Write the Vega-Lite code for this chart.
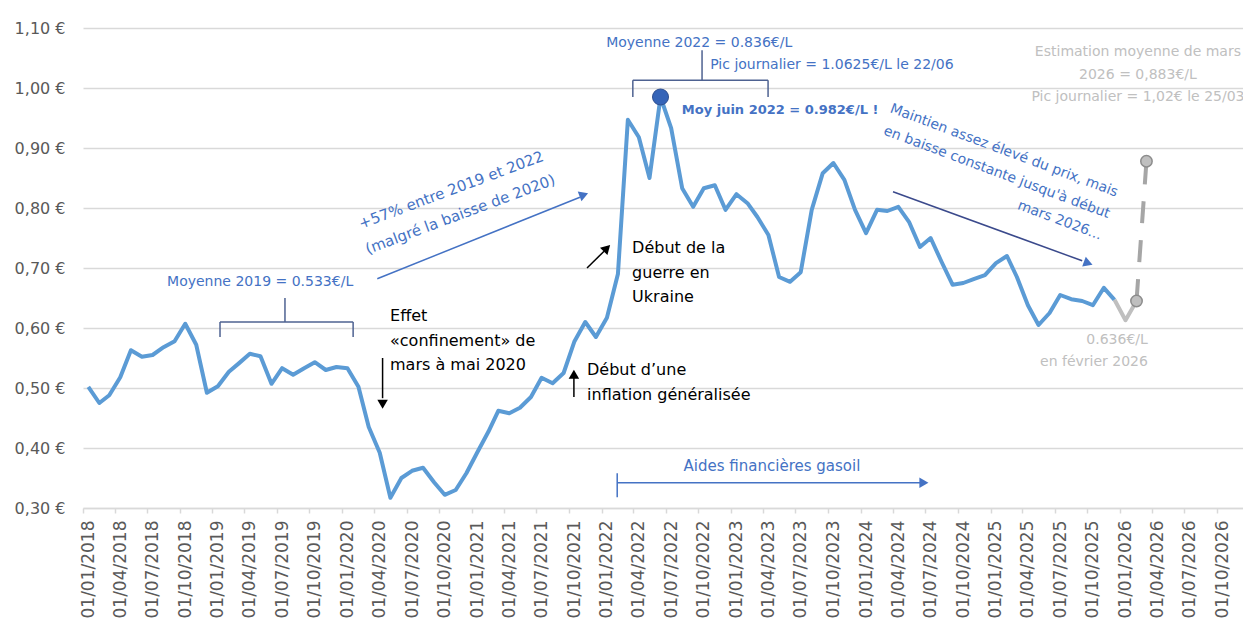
{
  "$schema": "https://vega.github.io/schema/vega-lite/v6.json",
  "width": 1160,
  "height": 480,
  "autosize": {"type": "none"},
  "padding": {"left": 83, "top": 28, "right": 0, "bottom": 118},
  "background": "white",
  "config": {"view": {"stroke": null}, "font": "DejaVu Sans", "text": {"font": "DejaVu Sans"}},
  "datasets": {
    "series": [
      {"date": "2018-01-01", "value": 0.502}, {"date": "2018-02-01", "value": 0.475}, {"date": "2018-03-01", "value": 0.488},
      {"date": "2018-04-01", "value": 0.518}, {"date": "2018-05-01", "value": 0.563}, {"date": "2018-06-01", "value": 0.552},
      {"date": "2018-07-01", "value": 0.555}, {"date": "2018-08-01", "value": 0.568}, {"date": "2018-09-01", "value": 0.578},
      {"date": "2018-10-01", "value": 0.607}, {"date": "2018-11-01", "value": 0.572}, {"date": "2018-12-01", "value": 0.492},
      {"date": "2019-01-01", "value": 0.503}, {"date": "2019-02-01", "value": 0.527}, {"date": "2019-03-01", "value": 0.541},
      {"date": "2019-04-01", "value": 0.557}, {"date": "2019-05-01", "value": 0.553}, {"date": "2019-06-01", "value": 0.507},
      {"date": "2019-07-01", "value": 0.533}, {"date": "2019-08-01", "value": 0.522}, {"date": "2019-09-01", "value": 0.533},
      {"date": "2019-10-01", "value": 0.543}, {"date": "2019-11-01", "value": 0.530}, {"date": "2019-12-01", "value": 0.535},
      {"date": "2020-01-01", "value": 0.533}, {"date": "2020-02-01", "value": 0.502}, {"date": "2020-03-01", "value": 0.435},
      {"date": "2020-04-01", "value": 0.392}, {"date": "2020-05-01", "value": 0.317}, {"date": "2020-06-01", "value": 0.350},
      {"date": "2020-07-01", "value": 0.362}, {"date": "2020-08-01", "value": 0.367}, {"date": "2020-09-01", "value": 0.343},
      {"date": "2020-10-01", "value": 0.322}, {"date": "2020-11-01", "value": 0.330}, {"date": "2020-12-01", "value": 0.358},
      {"date": "2021-01-01", "value": 0.393}, {"date": "2021-02-01", "value": 0.427}, {"date": "2021-03-01", "value": 0.462},
      {"date": "2021-04-01", "value": 0.458}, {"date": "2021-05-01", "value": 0.467}, {"date": "2021-06-01", "value": 0.485},
      {"date": "2021-07-01", "value": 0.517}, {"date": "2021-08-01", "value": 0.508}, {"date": "2021-09-01", "value": 0.525},
      {"date": "2021-10-01", "value": 0.577}, {"date": "2021-11-01", "value": 0.610}, {"date": "2021-12-01", "value": 0.585},
      {"date": "2022-01-01", "value": 0.617}, {"date": "2022-02-01", "value": 0.690}, {"date": "2022-03-01", "value": 0.947},
      {"date": "2022-04-01", "value": 0.918}, {"date": "2022-05-01", "value": 0.850}, {"date": "2022-06-01", "value": 0.985},
      {"date": "2022-07-01", "value": 0.933}, {"date": "2022-08-01", "value": 0.833}, {"date": "2022-09-01", "value": 0.802},
      {"date": "2022-10-01", "value": 0.833}, {"date": "2022-11-01", "value": 0.838}, {"date": "2022-12-01", "value": 0.797},
      {"date": "2023-01-01", "value": 0.823}, {"date": "2023-02-01", "value": 0.808}, {"date": "2023-03-01", "value": 0.785},
      {"date": "2023-04-01", "value": 0.755}, {"date": "2023-05-01", "value": 0.685}, {"date": "2023-06-01", "value": 0.677},
      {"date": "2023-07-01", "value": 0.693}, {"date": "2023-08-01", "value": 0.797}, {"date": "2023-09-01", "value": 0.858},
      {"date": "2023-10-01", "value": 0.875}, {"date": "2023-11-01", "value": 0.847}, {"date": "2023-12-01", "value": 0.797},
      {"date": "2024-01-01", "value": 0.758}, {"date": "2024-02-01", "value": 0.797}, {"date": "2024-03-01", "value": 0.795},
      {"date": "2024-04-01", "value": 0.802}, {"date": "2024-05-01", "value": 0.777}, {"date": "2024-06-01", "value": 0.735},
      {"date": "2024-07-01", "value": 0.750}, {"date": "2024-08-01", "value": 0.710}, {"date": "2024-09-01", "value": 0.672},
      {"date": "2024-10-01", "value": 0.675}, {"date": "2024-11-01", "value": 0.682}, {"date": "2024-12-01", "value": 0.688},
      {"date": "2025-01-01", "value": 0.708}, {"date": "2025-02-01", "value": 0.720}, {"date": "2025-03-01", "value": 0.685},
      {"date": "2025-04-01", "value": 0.638}, {"date": "2025-05-01", "value": 0.605}, {"date": "2025-06-01", "value": 0.625},
      {"date": "2025-07-01", "value": 0.655}, {"date": "2025-08-01", "value": 0.648}, {"date": "2025-09-01", "value": 0.645},
      {"date": "2025-10-01", "value": 0.638}, {"date": "2025-11-01", "value": 0.667}, {"date": "2025-12-01", "value": 0.647}
    ],
    "grey": [
      {"date": "2025-12-01", "value": 0.647}, {"date": "2026-01-01", "value": 0.613}, {"date": "2026-02-01", "value": 0.645}
    ],
    "estimate": [
      {"date": "2026-02-01", "value": 0.645}, {"date": "2026-03-01", "value": 0.878}
    ],
    "peak": [
      {"date": "2022-06-01", "value": 0.985}
    ],
    "rules": [
      {"date": "2019-01-07", "date2": "2020-01-17", "value": 0.61, "value2": 0.61, "kind": "br"},
      {"date": "2019-01-07", "date2": "2019-01-07", "value": 0.61, "value2": 0.585, "kind": "br"},
      {"date": "2020-01-17", "date2": "2020-01-17", "value": 0.61, "value2": 0.585, "kind": "br"},
      {"date": "2019-07-09", "date2": "2019-07-09", "value": 0.61, "value2": 0.65, "kind": "br"},
      {"date": "2022-03-15", "date2": "2023-03-31", "value": 1.013, "value2": 1.013, "kind": "br"},
      {"date": "2022-03-15", "date2": "2022-03-15", "value": 1.013, "value2": 0.985, "kind": "br"},
      {"date": "2023-03-31", "date2": "2023-03-31", "value": 1.013, "value2": 0.985, "kind": "br"},
      {"date": "2022-09-26", "date2": "2022-09-26", "value": 1.013, "value2": 1.063, "kind": "br"},
      {"date": "2020-03-25", "date2": "2021-10-17", "value": 0.682, "value2": 0.818, "kind": "blue"},
      {"date": "2020-04-09", "date2": "2020-04-09", "value": 0.55, "value2": 0.483, "kind": "black"},
      {"date": "2021-09-30", "date2": "2021-09-30", "value": 0.485, "value2": 0.517, "kind": "black"},
      {"date": "2021-11-06", "date2": "2021-12-24", "value": 0.70, "value2": 0.728, "kind": "black"},
      {"date": "2024-03-17", "date2": "2025-09-01", "value": 0.827, "value2": 0.712, "kind": "navy"},
      {"date": "2022-01-30", "date2": "2024-06-01", "value": 0.342, "value2": 0.342, "kind": "blue"},
      {"date": "2022-01-30", "date2": "2022-01-30", "value": 0.358, "value2": 0.318, "kind": "blue"}
    ],
    "heads": [
      {"date": "2021-10-28", "value": 0.822, "ang": -21, "kind": "blue"},
      {"date": "2020-04-09", "value": 0.473, "ang": 90, "kind": "black"},
      {"date": "2021-09-30", "value": 0.523, "ang": -90, "kind": "black"},
      {"date": "2022-01-01", "value": 0.733, "ang": -45, "kind": "black"},
      {"date": "2025-09-18", "value": 0.708, "ang": 20, "kind": "blue"},
      {"date": "2024-06-12", "value": 0.342, "ang": 0, "kind": "blue"}
    ]
  },
  "layer": [
    {
      "data": {"name": "series"},
      "mark": {"type": "line", "color": "#5B9BD5", "strokeWidth": 4, "strokeJoin": "round"},
      "encoding": {
        "x": {
          "field": "date", "type": "temporal", "title": null,
          "scale": {"type": "utc", "domain": [{"year": 2017, "month": 12, "date": 17, "utc": true}, {"year": 2026, "month": 11, "date": 28, "utc": true}]},
          "axis": {
            "format": "%d/%m/%Y", "tickCount": {"interval": "month", "step": 3},
            "labelAngle": -90, "labelFontSize": 17, "labelColor": "#595959", "labelFont": "DejaVu Sans",
            "labelPadding": 7, "tickColor": "#d9d9d9", "tickSize": 5, "tickWidth": 1.5,
            "tickOffset": -5.4, "labelOffset": 5.4, "domainColor": "#d9d9d9", "domainWidth": 1.5,
            "grid": false, "labelOverlap": false, "labelFlush": false, "labelBound": false, "title": null
          }
        },
        "y": {
          "field": "value", "type": "quantitative", "title": null,
          "scale": {"domain": [0.3, 1.1], "nice": false, "zero": false},
          "axis": {
            "values": [0.3, 0.4, 0.5, 0.6, 0.7, 0.8, 0.9, 1.0, 1.1],
            "labelExpr": "replace(format(datum.value, '.2f'), '.', ',') + ' €'",
            "domain": false, "ticks": false, "grid": true, "gridColor": "#d9d9d9", "gridWidth": 1.5,
            "labelFontSize": 16, "labelColor": "#595959", "labelFont": "DejaVu Sans", "labelPadding": 18, "title": null
          }
        }
      }
    },
    {
      "data": {"name": "rules"},
      "mark": {"type": "rule", "strokeWidth": 1.5},
      "encoding": {
        "x": {"field": "date", "type": "temporal", "title": null},
        "x2": {"field": "date2"},
        "y": {"field": "value", "type": "quantitative", "title": null},
        "y2": {"field": "value2"},
        "color": {"field": "kind", "type": "nominal", "legend": null,
          "scale": {"domain": ["br", "blue", "black", "navy"], "range": ["#4E6291", "#4472C4", "#000000", "#3B4A8C"]}}
      }
    },
    {
      "data": {"name": "heads"},
      "mark": {"type": "point", "shape": "triangle-right", "filled": true, "size": 110, "opacity": 1},
      "encoding": {
        "x": {"field": "date", "type": "temporal", "title": null},
        "y": {"field": "value", "type": "quantitative", "title": null},
        "angle": {"field": "ang", "type": "quantitative", "scale": null},
        "color": {"field": "kind", "type": "nominal", "legend": null,
          "scale": {"domain": ["br", "blue", "black", "navy"], "range": ["#4E6291", "#4472C4", "#000000", "#3B4A8C"]}}
      }
    },
    {
      "data": {"values": [
        {"date": "2019-04-30", "value": 0.677, "label": "Moyenne 2019 = 0.533€/L"},
        {"date": "2022-09-18", "value": 1.075, "label": "Moyenne 2022 = 0.836€/L"}
      ]},
      "mark": {"type": "text", "align": "center", "baseline": "middle", "fontSize": 14, "color": "#4472C4"},
      "encoding": {
        "x": {"field": "date", "type": "temporal", "title": null},
        "y": {"field": "value", "type": "quantitative", "title": null},
        "text": {"field": "label"}
      }
    },
    {
      "data": {"values": [
        {"date": "2022-10-19", "value": 1.038, "label": "Pic journalier = 1.0625€/L le 22/06"}
      ]},
      "mark": {"type": "text", "align": "left", "baseline": "middle", "fontSize": 14, "color": "#4472C4"},
      "encoding": {
        "x": {"field": "date", "type": "temporal", "title": null},
        "y": {"field": "value", "type": "quantitative", "title": null},
        "text": {"field": "label"}
      }
    },
    {
      "data": {"values": [
        {"date": "2022-07-31", "value": 0.963, "label": "Moy juin 2022 = 0.982€/L !"}
      ]},
      "mark": {"type": "text", "align": "left", "baseline": "middle", "fontSize": 13, "fontWeight": "bold", "color": "#4472C4"},
      "encoding": {
        "x": {"field": "date", "type": "temporal", "title": null},
        "y": {"field": "value", "type": "quantitative", "title": null},
        "text": {"field": "label"}
      }
    },
    {
      "data": {"values": [
        {"date": "2020-10-19", "value": 0.83, "label": ["+57% entre 2019 et 2022", "(malgré la baisse de 2020)"]}
      ]},
      "mark": {"type": "text", "align": "center", "baseline": "middle", "fontSize": 15, "angle": -20.5, "lineHeight": 26, "color": "#4472C4"},
      "encoding": {
        "x": {"field": "date", "type": "temporal", "title": null},
        "y": {"field": "value", "type": "quantitative", "title": null},
        "text": {"field": "label"}
      }
    },
    {
      "data": {"values": [
        {"date": "2025-12-09", "value": 0.825, "label": ["Maintien assez élevé du prix, mais", "en baisse constante jusqu'à début", "mars 2026..."]}
      ]},
      "mark": {"type": "text", "align": "right", "baseline": "middle", "fontSize": 14, "angle": 20.5, "lineHeight": 23, "color": "#4472C4"},
      "encoding": {
        "x": {"field": "date", "type": "temporal", "title": null},
        "y": {"field": "value", "type": "quantitative", "title": null},
        "text": {"field": "label"}
      }
    },
    {
      "data": {"values": [
        {"date": "2023-04-11", "value": 0.37, "label": "Aides financières gasoil"}
      ]},
      "mark": {"type": "text", "align": "center", "baseline": "middle", "fontSize": 15, "color": "#4472C4"},
      "encoding": {
        "x": {"field": "date", "type": "temporal", "title": null},
        "y": {"field": "value", "type": "quantitative", "title": null},
        "text": {"field": "label"}
      }
    },
    {
      "data": {"values": [
        {"date": "2020-04-30", "value": 0.62, "label": ["Effet", "«confinement» de", "mars à mai 2020"]},
        {"date": "2021-11-06", "value": 0.53, "label": ["Début d’une", "inflation généralisée"]},
        {"date": "2022-03-13", "value": 0.733, "label": ["Début de la", "guerre en", "Ukraine"]}
      ]},
      "mark": {"type": "text", "align": "left", "baseline": "middle", "fontSize": 16, "lineHeight": 24.5, "color": "#000000"},
      "encoding": {
        "x": {"field": "date", "type": "temporal", "title": null},
        "y": {"field": "value", "type": "quantitative", "title": null},
        "text": {"field": "label"}
      }
    },
    {
      "data": {"values": [
        {"date": "2026-02-05", "value": 1.06, "label": ["Estimation  moyenne de mars", "2026 = 0,883€/L", "Pic journalier = 1,02€ le 25/03"]}
      ]},
      "mark": {"type": "text", "align": "center", "baseline": "middle", "fontSize": 14, "lineHeight": 22.5, "color": "#C0C0C0"},
      "encoding": {
        "x": {"field": "date", "type": "temporal", "title": null},
        "y": {"field": "value", "type": "quantitative", "title": null},
        "text": {"field": "label"}
      }
    },
    {
      "data": {"values": [
        {"date": "2026-03-05", "value": 0.58, "label": ["0.636€/L", "en février 2026"]}
      ]},
      "mark": {"type": "text", "align": "right", "baseline": "middle", "fontSize": 14, "lineHeight": 22, "color": "#C0C0C0"},
      "encoding": {
        "x": {"field": "date", "type": "temporal", "title": null},
        "y": {"field": "value", "type": "quantitative", "title": null},
        "text": {"field": "label"}
      }
    },
    {
      "data": {"name": "grey"},
      "mark": {"type": "line", "color": "#BFBFBF", "strokeWidth": 4, "strokeJoin": "round"},
      "encoding": {
        "x": {"field": "date", "type": "temporal", "title": null},
        "y": {"field": "value", "type": "quantitative", "title": null}
      }
    },
    {
      "data": {"name": "estimate"},
      "mark": {"type": "line", "color": "#A6A6A6", "strokeWidth": 4, "strokeDash": [22, 17]},
      "encoding": {
        "x": {"field": "date", "type": "temporal", "title": null},
        "y": {"field": "value", "type": "quantitative", "title": null}
      }
    },
    {
      "data": {"name": "estimate"},
      "mark": {"type": "point", "shape": "circle", "filled": true, "size": 130, "color": "#BFBFBF", "stroke": "#8C8C8C", "strokeWidth": 1.5, "opacity": 1},
      "encoding": {
        "x": {"field": "date", "type": "temporal", "title": null},
        "y": {"field": "value", "type": "quantitative", "title": null}
      }
    },
    {
      "data": {"name": "peak"},
      "mark": {"type": "point", "shape": "circle", "filled": true, "size": 256, "color": "#3564B8", "stroke": "#2F4F8F", "strokeWidth": 1, "opacity": 1},
      "encoding": {
        "x": {"field": "date", "type": "temporal", "title": null},
        "y": {"field": "value", "type": "quantitative", "title": null}
      }
    }
  ]
}
